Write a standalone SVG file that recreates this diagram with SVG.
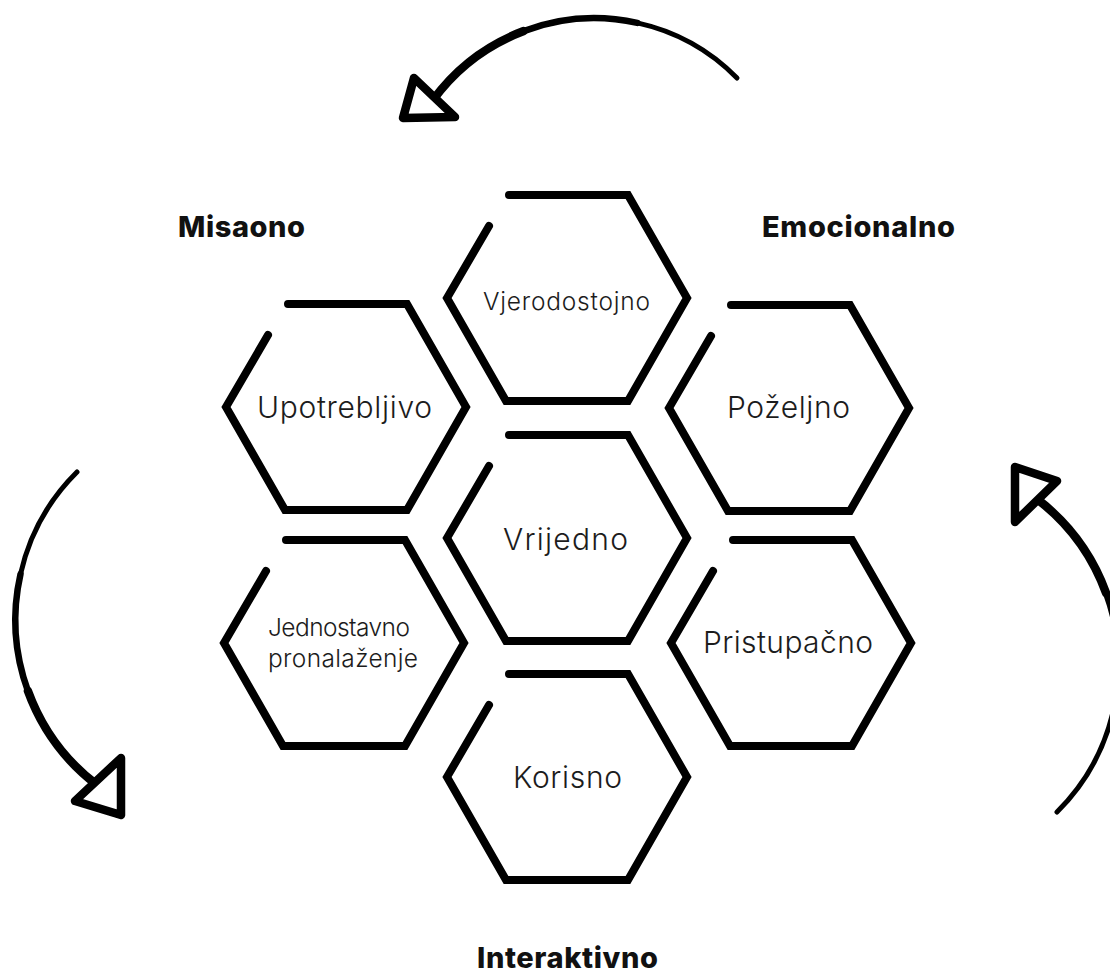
<svg xmlns="http://www.w3.org/2000/svg" xmlns:xlink="http://www.w3.org/1999/xlink" width="1110" height="974" viewBox="0 0 1110 974">
<style>
.hex{fill:none;stroke:#000;stroke-width:8;stroke-linecap:round;stroke-linejoin:miter}
.lbl{font-family:Inter,"Open Sans","Liberation Sans",sans-serif;font-weight:300;fill:#1c1c1c;text-anchor:middle}
.big{font-size:30px}
.sm{font-size:24.5px}
.head{font-family:Inter,"Liberation Sans",sans-serif;font-weight:800;font-size:29px;fill:#111;text-anchor:middle}
.a1{fill:none;stroke:#000;stroke-width:5;stroke-linecap:round}
.a2{fill:none;stroke:#000;stroke-width:6.5;stroke-linecap:round}
.a3{fill:none;stroke:#000;stroke-width:8.5;stroke-linecap:round}
.head-tri{fill:#fff;stroke:#000;stroke-width:8.5;stroke-linejoin:round}
</style>
<defs>
<path id="hex" d="M -58,-103 L 61,-103 L 120,0 L 61,103 L -61,103 L -120,0 L -78,-72"/>
</defs>
<rect width="1110" height="974" fill="#fff"/>
<g id="connectors">
<g id="arrow-top">
<path class="a1" d="M 737,78 A 200 200 0 0 0 637.3,22.9"/>
<path class="a2" d="M 637.3,22.9 A 200 200 0 0 0 523.7,31.1"/>
<path class="a3" d="M 523.7,31.1 A 200 200 0 0 0 433,100"/>
<polygon class="head-tri" points="414,78 403,118 455,117"/>
</g>
<g id="arrow-left">
<path class="a1" d="M 77,472 A 208 208 0 0 0 20.5,574.1"/>
<path class="a2" d="M 20.5,574.1 A 208 208 0 0 0 27.9,690.9"/>
<path class="a3" d="M 27.9,690.9 A 208 208 0 0 0 97,785"/>
<polygon class="head-tri" points="121,758 75,801 121,815"/>
</g>
<g id="arrow-right">
<path class="a1" d="M 1057,812 A 208 208 0 0 0 1113.5,709.9"/>
<path class="a2" d="M 1113.5,709.9 A 208 208 0 0 0 1106.1,593.1"/>
<path class="a3" d="M 1106.1,593.1 A 208 208 0 0 0 1037,499"/>
<polygon class="head-tri" points="1015,467 1057,481 1015,522"/>
</g>
</g>
<g id="node-vjerodostojno"><use xlink:href="#hex" class="hex" transform="translate(567,298)"/><text class="lbl sm" x="566.5" y="310" textLength="167" lengthAdjust="spacing">Vjerodostojno</text></g>
<g id="node-upotrebljivo"><use xlink:href="#hex" class="hex" transform="translate(346,407)"/><text class="lbl big" x="344.5" y="418" textLength="175" lengthAdjust="spacing">Upotrebljivo</text></g>
<g id="node-vrijedno"><use xlink:href="#hex" class="hex" transform="translate(567,538)"/><text class="lbl big" x="565.5" y="550" textLength="125" lengthAdjust="spacing">Vrijedno</text></g>
<g id="node-pozeljno"><use xlink:href="#hex" class="hex" transform="translate(789,408)"/><text class="lbl big" x="788.5" y="418" textLength="123" lengthAdjust="spacing">Poželjno</text></g>
<g id="node-jednostavno"><use xlink:href="#hex" class="hex" transform="translate(344,643)"/><text class="lbl sm" x="339" y="636" textLength="142" lengthAdjust="spacing">Jednostavno</text><text class="lbl sm" x="343" y="667" textLength="150" lengthAdjust="spacing">pronalaženje</text></g>
<g id="node-pristupacno"><use xlink:href="#hex" class="hex" transform="translate(791,643)"/><text class="lbl big" x="788" y="653" textLength="170" lengthAdjust="spacing">Pristupačno</text></g>
<g id="node-korisno"><use xlink:href="#hex" class="hex" transform="translate(567,777)"/><text class="lbl big" x="567.5" y="788" textLength="109" lengthAdjust="spacing">Korisno</text></g>
<g id="labels">
<text class="head" x="241.5" y="237" textLength="127" lengthAdjust="spacing">Misaono</text>
<text class="head" x="858.5" y="237" textLength="193" lengthAdjust="spacing">Emocionalno</text>
<text class="head" x="567.5" y="968" textLength="181" lengthAdjust="spacing">Interaktivno</text>
</g>
</svg>
